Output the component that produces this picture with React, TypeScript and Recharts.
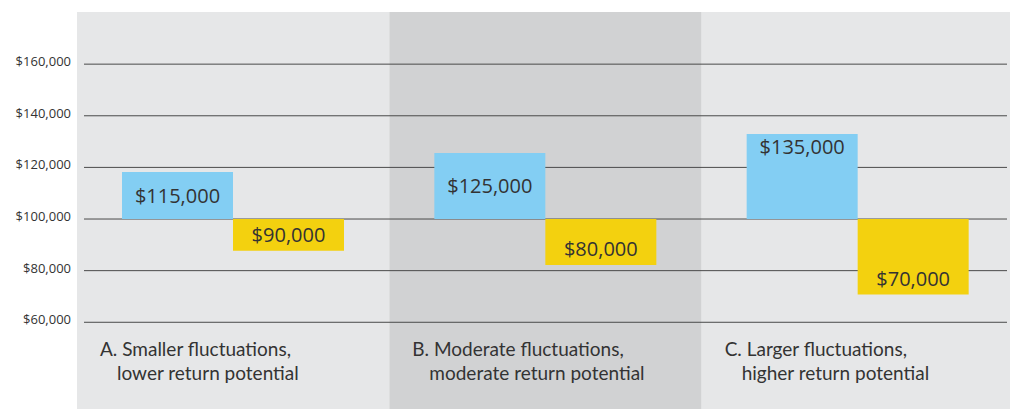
import React from 'react'
import {
  ComposedChart,
  Bar,
  XAxis,
  YAxis,
  CartesianGrid,
  ReferenceArea,
  LabelList,
} from 'recharts'

// outcomes relative to a $100,000 starting point
const categories = ['A', 'B', 'C']
const categoryLines = [
  ['A. Smaller fluctuations,', 'lower return potential'],
  ['B. Moderate fluctuations,', 'moderate return potential'],
  ['C. Larger fluctuations,', 'higher return potential'],
]
const startValue = 100000
const gainTops = [118200, 125600, 132900]
const lossBottoms = [87700, 82200, 70800]
const gainLabels = ['$115,000', '$125,000', '$135,000']
const lossLabels = ['$90,000', '$80,000', '$70,000']
const yTicks = [60000, 80000, 100000, 120000, 140000, 160000]
const yDomain = [26400, 180200]

const panelFills = ['#e6e7e8', '#d1d2d3', '#e6e7e8']
const TEXT = '#333333'
const NUM_FONT = '"Open Sans", sans-serif'
const CAT_FONT = 'Lato, sans-serif'

const data = categories.map((name, i) => ({
  name,
  gain: [startValue, gainTops[i]],
  loss: [lossBottoms[i], startValue],
}))

function YTick({ x, y, payload }: any) {
  return (
    <text x={x} y={y - 3} textAnchor="end" dominantBaseline="central" fill={TEXT} fontSize={13} fontFamily={NUM_FONT}>
      ${payload.value.toLocaleString('en-US')}
    </text>
  )
}

function gainLabel(props: any) {
  const { x, y, width, height, index } = props
  // tall bars get the label near the top, short ones centred
  const ly = height > 75 ? y + 12 : y + height / 2
  return (
    <text x={x + width / 2} y={ly} textAnchor="middle" dominantBaseline="central" fill={TEXT} fontSize={20} fontFamily={NUM_FONT}>
      {gainLabels[index]}
    </text>
  )
}

function lossLabel(props: any) {
  const { x, y, width, height, index } = props
  return (
    <text x={x + width / 2} y={y + height - 16} textAnchor="middle" dominantBaseline="central" fill={TEXT} fontSize={20} fontFamily={NUM_FONT}>
      {lossLabels[index]}
    </text>
  )
}

function panelLabel(lines: string[]) {
  return (props: any) => {
    const vb = props.viewBox
    const bottom = vb.y + vb.height
    return (
      <text fill={TEXT} fontSize={19} fontFamily={CAT_FONT}>
        <tspan x={vb.x + 23} y={bottom - 53}>{lines[0]}</tspan>
        <tspan x={vb.x + 40} y={bottom - 29}>{lines[1]}</tspan>
      </text>
    )
  }
}

export default function App() {
  return (
    <div style={{ position: 'absolute', left: 0, top: 0, width: 1010, height: 409, overflow: 'hidden', background: '#fff' }}>
      <ComposedChart
        width={1014}
        height={409}
        data={data}
        margin={{ top: 12, right: 0, bottom: 0, left: 0 }}
        barGap={0}
      >
        {categories.map((c, i) => (
          <ReferenceArea
            key={c}
            x1={c}
            x2={c}
            fill={panelFills[i]}
            fillOpacity={1}
            stroke="none"
            ifOverflow="visible"
            zIndex={-200}
            label={panelLabel(categoryLines[i])}
          />
        ))}
        <CartesianGrid
          vertical={false}
          x={84}
          width={923}
          stroke="#4a4a4a"
          strokeWidth={1}
          zIndex={-100}
          syncWithTicks
        />
        <XAxis dataKey="name" hide />
        <YAxis
          type="number"
          domain={yDomain}
          ticks={yTicks}
          allowDataOverflow
          width={77}
          axisLine={false}
          tickLine={false}
          tickSize={0}
          tickMargin={6}
          tick={<YTick />}
        />
        <Bar dataKey="gain" fill="#83cef3" barSize={111} isAnimationActive={false}>
          <LabelList dataKey="gain" content={gainLabel} />
        </Bar>
        <Bar dataKey="loss" fill="#f3d10f" barSize={111} isAnimationActive={false}>
          <LabelList dataKey="loss" content={lossLabel} />
        </Bar>
      </ComposedChart>
    </div>
  )
}
